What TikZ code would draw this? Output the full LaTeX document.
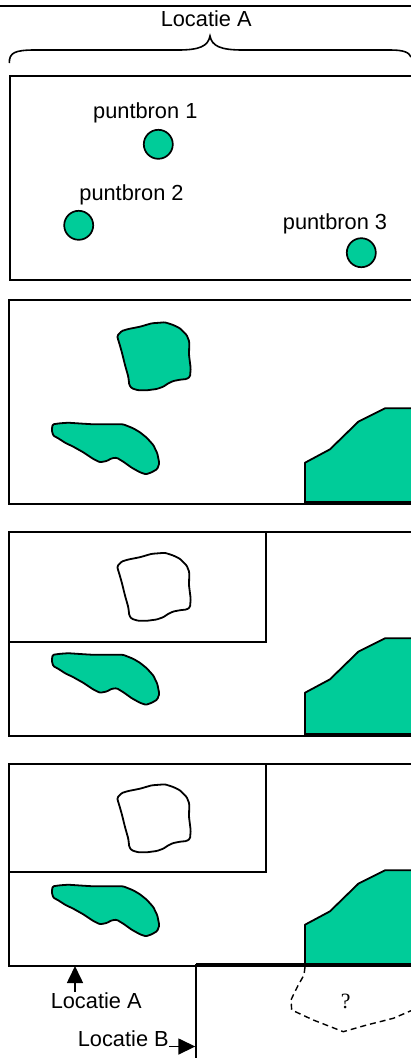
\documentclass[tikz,border=0pt]{standalone}
\usepackage{fontspec}
\setmainfont{Liberation Sans}
\newfontfamily\serifq{Liberation Serif}
\usetikzlibrary{arrows.meta}
\definecolor{blobgreen}{HTML}{00CC99}
\tikzset{
  sqblob/.pic={\path[pic actions] (117.3,335.7) -- (121.7,331) -- (128.3,329) -- (140,326.7) -- (151.7,323.3) -- (165,322.3) -- (173.3,325) -- (180,328.3) -- (186.7,335) -- (189.3,341.7) -- (189,355) -- (190.7,368.3) -- (190,376.7) -- (186.7,379) -- (180,379.7) -- (173.3,381) -- (168.3,383.3) -- (163.3,386.7) -- (156.7,389) -- (146.7,390.3) -- (138.3,390.3) -- (131.7,388.3) -- (129.3,385) -- (128.3,376.7) -- (125,365) -- (121.7,351.7) -- (119.3,343.3) -- (117.7,338.3) -- cycle;},
  longblob/.pic={\path[pic actions] (52.7,424.3) -- (60,423.3) -- (68.3,422.7) -- (83.3,423.7) -- (93.3,424.3) -- (123.3,424.3) -- (133.3,428.3) -- (140,432.3) -- (146.7,437.7) -- (153.3,445) -- (157.3,453.3) -- (159.3,463.3) -- (157.3,469) -- (151.7,472.3) -- (146,474.3) -- (140,472.3) -- (131.7,467.7) -- (123.3,461.7) -- (116.7,457.7) -- (111.7,458.3) -- (106.7,461) -- (100,462.3) -- (93.3,459) -- (83.3,452.3) -- (73.3,446.7) -- (65,442.7) -- (58.3,438.3) -- (53.3,435.7) -- (51.7,430) -- cycle;},
}
\begin{document}
\begin{tikzpicture}[x=1pt,y=-1pt,
  frame/.style={line width=1.8pt},
  boldline/.style={line width=3.5pt},
  blob/.style={line width=1.8pt, line join=round, rounded corners=1.2pt},
  src/.style={circle, draw, line width=1.7pt, fill=blobgreen, minimum size=29pt, inner sep=0pt},
  lbl/.style={font=\fontsize{21.8}{26}\selectfont, inner sep=0pt, anchor=base},
  arr/.style={line width=1.6pt, -{Triangle[length=17pt,width=16pt]}},
  hill/.style={fill=blobgreen, draw=none},
]
\useasboundingbox (0,0) rectangle (411,1058);

% top line, label and brace
\draw[frame] (0,6) -- (411,6);
\node[lbl] (locTop) at (206.2,26.7) {Locatie A};
\draw[line width=1.6pt] (9.3,63) .. controls (9.3,53) and (14,50) .. (35,50) -- (178,50) .. controls (200,50) and (208,46) .. (210,36) .. controls (212,46) and (220,50) .. (243,50) -- (390,50) .. controls (403,50) and (409,52) .. (411,57);

% panel 1
\draw[frame] (411,76) -- (10,76) -- (10,280) -- (411,280);
\node[src] (p1) at (158.3,144.3) {};
\node[src] (p2) at (78.7,225.3) {};
\node[src] (p3) at (361.3,252.7) {};
\node[lbl] (l1) at (145.3,118.3) {puntbron 1};
\node[lbl] (l2) at (131.5,200) {puntbron 2};
\node[lbl] (l3) at (335,229.3) {puntbron 3};

% panel 2
\draw[frame] (411,300) -- (8.7,300) -- (8.7,504) -- (411,504);
\pic[blob, draw, fill=blobgreen] at (0,0) {sqblob};
\pic[blob, draw, fill=blobgreen] at (0,0) {longblob};
\fill[hill] (305,504) -- (305,462.7) -- (330,449.3) -- (358.3,421.7) -- (385,408.3) -- (411,408.3) -- (411,504) -- cycle;
\draw[frame, line join=round] (305,503) -- (305,462.7) -- (330,449.3) -- (358.3,421.7) -- (385,408.3) -- (411,408.3);
\draw[boldline] (305,503) -- (411,503);

% panel 3
\draw[frame] (411,532) -- (8.7,532) -- (8.7,736) -- (411,736);
\draw[frame] (8.7,642) -- (265.7,642) -- (265.7,532);
\pic[blob, draw, fill=white] at (0,230.5) {sqblob};
\pic[blob, draw, fill=blobgreen] at (0,230.5) {longblob};
\fill[hill] (305,736) -- (305,692.7) -- (330,679.3) -- (358.3,651.7) -- (385,638.3) -- (411,638.3) -- (411,736) -- cycle;
\draw[frame, line join=round] (305,735) -- (305,692.7) -- (330,679.3) -- (358.3,651.7) -- (385,638.3) -- (411,638.3);
\draw[boldline] (305,735) -- (411,735);

% panel 4
\draw[frame] (411,764) -- (8.7,764) -- (8.7,966) -- (196,966);
\draw[frame] (8.7,872) -- (265.7,872) -- (265.7,764);
\pic[blob, draw, fill=white] at (0,462) {sqblob};
\pic[blob, draw, fill=blobgreen] at (0,462) {longblob};
\fill[hill] (305,966) -- (305,924.7) -- (330,911.3) -- (358.3,883.7) -- (385,870.3) -- (411,870.3) -- (411,966) -- cycle;
\draw[frame, line join=round] (305,965) -- (305,924.7) -- (330,911.3) -- (358.3,883.7) -- (385,870.3) -- (411,870.3);

% location B
\draw[boldline] (196,965.2) -- (411,965.2);
\draw[frame] (196,964) -- (196,1058);
\draw[line width=1.4pt, dash pattern=on 6pt off 4pt, line join=round] (305,967) -- (304,975) -- (298.3,985) -- (293.3,995) -- (291,1000) -- (291.7,1010) -- (313.3,1020) -- (343.3,1031.7) -- (366.7,1025) -- (393.3,1018.3) -- (411,1010.7);
\node[font=\serifq\fontsize{21.8}{26}\selectfont, inner sep=0pt, anchor=base] (q) at (345.7,1008) {?};

% labels with arrows
\coordinate (tipA) at (75,966);
\coordinate (tipB) at (195.3,1046.5);
\node[lbl] (labA) at (96.2,1008) {Locatie A};
\node[lbl] (labB) at (123.3,1046.5) {Locatie B};
\draw[arr] (labA.north -| tipA) -- (tipA);
\draw[arr] (labB.base east) -- (tipB);
\end{tikzpicture}
\end{document}
